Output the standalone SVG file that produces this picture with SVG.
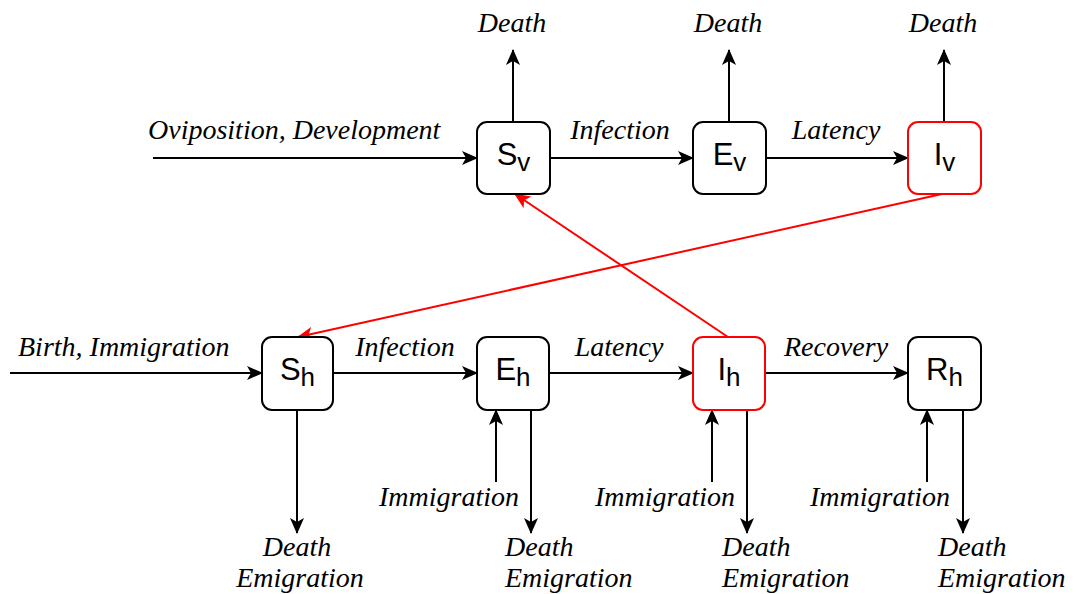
<svg xmlns="http://www.w3.org/2000/svg" width="1076" height="594" viewBox="0 0 1076 594">
<style>
.box{fill:#fff;stroke:#000;stroke-width:2}
.red{stroke:#ff0000}
.lbl{font-family:"Liberation Sans",Arial,sans-serif;font-size:31px;text-anchor:middle;fill:#000}
.sub{font-size:26px}
.t{font-family:"Liberation Serif","Times New Roman",serif;font-style:italic;font-size:28px;fill:#000}
.m{text-anchor:middle}
.ln{stroke:#000;stroke-width:2;fill:none}
.rl{stroke:#ff0000;stroke-width:2;fill:none}
</style>
<defs>
<marker id="ah" markerWidth="16" markerHeight="14" refX="15" refY="7" orient="auto" markerUnits="userSpaceOnUse">
<path d="M0,0 L16,7 L0,14 L4,7 z" fill="#000"/>
</marker>
<marker id="ahr" markerWidth="16" markerHeight="14" refX="15" refY="7" orient="auto" markerUnits="userSpaceOnUse">
<path d="M0,0 L16,7 L0,14 L4,7 z" fill="#ff0000"/>
</marker>
</defs>
<g id="connectors">
<line class="ln" x1="153" y1="158" x2="477" y2="158" marker-end="url(#ah)"/>
<line class="ln" x1="550" y1="158" x2="693" y2="158" marker-end="url(#ah)"/>
<line class="ln" x1="766" y1="158" x2="908" y2="158" marker-end="url(#ah)"/>
<line class="ln" x1="513" y1="122" x2="513" y2="50" marker-end="url(#ah)"/>
<line class="ln" x1="729" y1="122" x2="729" y2="50" marker-end="url(#ah)"/>
<line class="ln" x1="944" y1="122" x2="944" y2="50" marker-end="url(#ah)"/>
<line class="ln" x1="10" y1="373" x2="262" y2="373" marker-end="url(#ah)"/>
<line class="ln" x1="333" y1="373" x2="477" y2="373" marker-end="url(#ah)"/>
<line class="ln" x1="549" y1="373" x2="693" y2="373" marker-end="url(#ah)"/>
<line class="ln" x1="765" y1="373" x2="908" y2="373" marker-end="url(#ah)"/>
<line class="ln" x1="297" y1="410" x2="297" y2="533" marker-end="url(#ah)"/>
<line class="ln" x1="496" y1="482" x2="496" y2="410" marker-end="url(#ah)"/>
<line class="ln" x1="531" y1="410" x2="531" y2="533" marker-end="url(#ah)"/>
<line class="ln" x1="712" y1="482" x2="712" y2="410" marker-end="url(#ah)"/>
<line class="ln" x1="747" y1="410" x2="747" y2="533" marker-end="url(#ah)"/>
<line class="ln" x1="927" y1="482" x2="927" y2="410" marker-end="url(#ah)"/>
<line class="ln" x1="963" y1="410" x2="963" y2="533" marker-end="url(#ah)"/>
<line class="rl" x1="942" y1="194" x2="298" y2="337" marker-end="url(#ahr)"/>
<line class="rl" x1="728" y1="337" x2="515" y2="194" marker-end="url(#ahr)"/>
</g>
<g id="labels">
<text class="t" x="148" y="139">Oviposition, Development</text>
<text class="t m" x="620" y="139">Infection</text>
<text class="t m" x="836" y="139">Latency</text>
<text class="t m" x="512" y="32">Death</text>
<text class="t m" x="728" y="32">Death</text>
<text class="t m" x="943" y="32">Death</text>
<text class="t" x="18" y="356">Birth, Immigration</text>
<text class="t m" x="405" y="356">Infection</text>
<text class="t m" x="619" y="356">Latency</text>
<text class="t m" x="836" y="356">Recovery</text>
<text class="t m" x="449" y="506">Immigration</text>
<text class="t m" x="665" y="506">Immigration</text>
<text class="t m" x="880" y="506">Immigration</text>
<text class="t m" x="297" y="556">Death</text>
<text class="t m" x="300" y="587">Emigration</text>
<text class="t" x="505" y="556">Death</text>
<text class="t" x="505" y="587">Emigration</text>
<text class="t" x="722" y="556">Death</text>
<text class="t" x="722" y="587">Emigration</text>
<text class="t" x="938" y="556">Death</text>
<text class="t" x="938" y="587">Emigration</text>
</g>
<g id="Sv"><rect class="box" x="477" y="122" width="73" height="72" rx="10"/><text class="lbl" x="513.5" y="165">S<tspan class="sub" dy="6">v</tspan></text></g>
<g id="Ev"><rect class="box" x="693" y="122" width="73" height="72" rx="10"/><text class="lbl" x="729.5" y="165">E<tspan class="sub" dy="6">v</tspan></text></g>
<g id="Iv"><rect class="box red" x="908" y="122" width="73" height="72" rx="10"/><text class="lbl" x="944.5" y="165">I<tspan class="sub" dy="6">v</tspan></text></g>
<g id="Sh"><rect class="box" x="262" y="337" width="71" height="73" rx="10"/><text class="lbl" x="297.5" y="380">S<tspan class="sub" dy="6">h</tspan></text></g>
<g id="Eh"><rect class="box" x="477" y="337" width="72" height="73" rx="10"/><text class="lbl" x="513" y="380">E<tspan class="sub" dy="6">h</tspan></text></g>
<g id="Ih"><rect class="box red" x="693" y="337" width="72" height="73" rx="10"/><text class="lbl" x="729" y="380">I<tspan class="sub" dy="6">h</tspan></text></g>
<g id="Rh"><rect class="box" x="908" y="337" width="73" height="73" rx="10"/><text class="lbl" x="944.5" y="380">R<tspan class="sub" dy="6">h</tspan></text></g>
</svg>
